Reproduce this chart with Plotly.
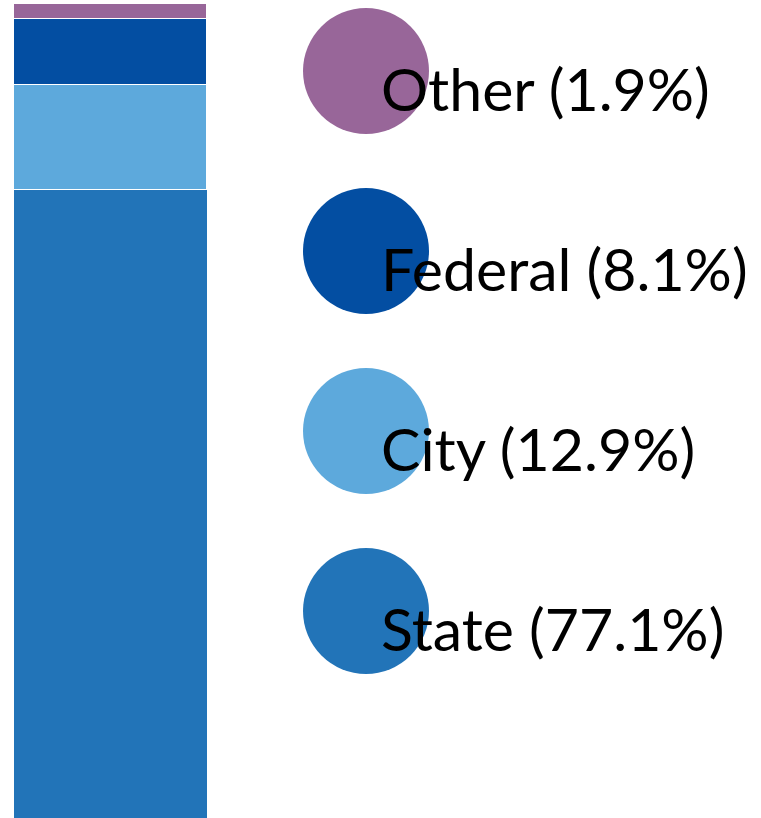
import plotly.graph_objects as go

categories = ["State", "City", "Federal", "Other"]
shares = [77.1, 12.9, 8.1, 1.9]
colors = ["#2274B8", "#5DA9DC", "#034EA2", "#986699"]
labels = [f"{c} ({v}%)" for c, v in zip(categories, shares)]
gap_widths = [0, 1, 1.5, 1.5]

W, H = 761, 818
fig = go.Figure()

for cat, val, col, lw in zip(categories, shares, colors, gap_widths):
    fig.add_trace(go.Bar(
        x=[0], y=[val], name=cat, width=1,
        marker=dict(color=col, line=dict(color="white", width=lw)),
        xaxis="x", yaxis="y", showlegend=False, hoverinfo="skip",
    ))

# legend-like circles
fig.add_trace(go.Scatter(
    x=[366 / W] * 4, y=list(range(4)), mode="markers",
    marker=dict(size=126, color=colors, line=dict(width=0)),
    xaxis="x2", yaxis="y2", showlegend=False, hoverinfo="skip",
))

for i, lab in enumerate(labels):
    fig.add_annotation(
        x=366 / W, y=i, xref="x2", yref="y2", text=lab, showarrow=False,
        xanchor="left", yanchor="middle", xshift=13, yshift=-17,
        font=dict(family="Lato", size=59, color="black"),
    )

fig.update_layout(
    width=W, height=H, margin=dict(l=0, r=0, t=0, b=0),
    paper_bgcolor="white", plot_bgcolor="rgba(0,0,0,0)",
    barmode="stack", bargap=0,
    xaxis=dict(domain=[14 / W, 207 / W], range=[-0.5, 0.5], visible=False, fixedrange=True),
    yaxis=dict(domain=[0, 814 / H], range=[0, 100], visible=False, fixedrange=True),
    xaxis2=dict(domain=[0, 1], range=[0, 1], visible=False, anchor="y2", fixedrange=True),
    yaxis2=dict(domain=[0, 1], range=[-207 / 180, -207 / 180 + H / 180], visible=False,
                anchor="x2", fixedrange=True),
)

fig.write_html("out.html", config={"displayModeBar": False},
               post_script="document.body.style.margin='0';")
